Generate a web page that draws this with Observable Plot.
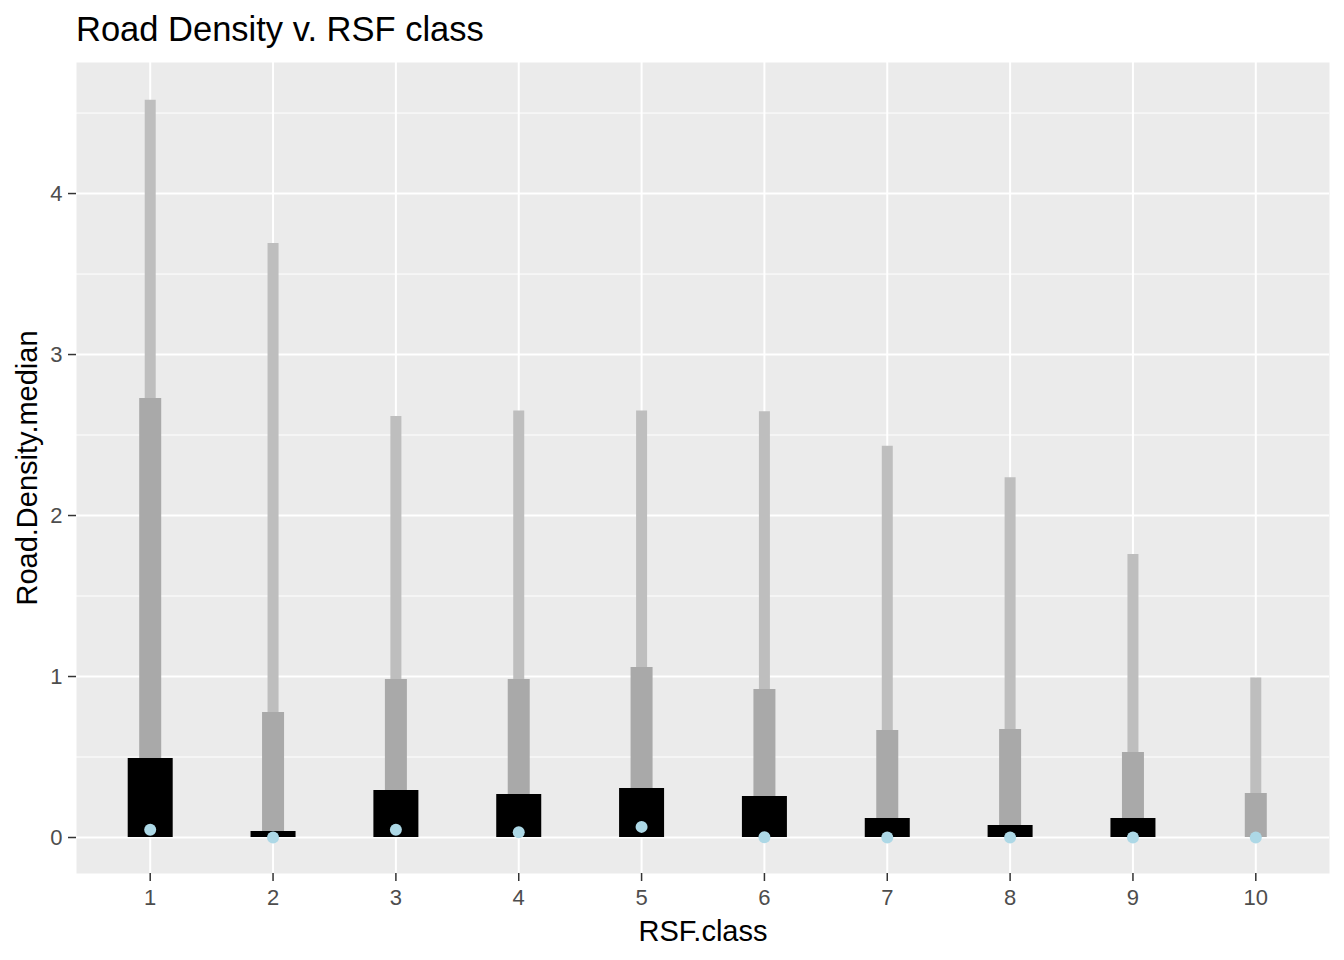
<!DOCTYPE html>
<html>
<head>
<meta charset="utf-8">
<script src="https://cdn.jsdelivr.net/npm/d3@7"></script>
<script src="https://cdn.jsdelivr.net/npm/@observablehq/plot@0.6"></script>
<style>
  html, body { margin: 0; padding: 0; background: #ffffff; }
  #title {
    box-sizing: border-box;
    height: 50px;
    padding-top: 12px;
    padding-left: 76px;
    font-family: "Liberation Sans", Arial, sans-serif;
    font-size: 34.5px;
    line-height: 35px;
    color: #000000;
    white-space: nowrap;
  }
  svg { display: block; }
</style>
</head>
<body>
<div id="title">Road Density v. RSF class</div>
<div id="chart"></div>
<script>
// RSF classes on the x axis
const rsfClass = [1, 2, 3, 4, 5, 6, 7, 8, 9, 10];
// Light grey thin bars (upper extent)
const upperValues = [4.58, 3.69, 2.615, 2.65, 2.65, 2.645, 2.43, 2.235, 1.758, 0.99];
// Medium grey bars
const midValues = [2.727, 0.776, 0.981, 0.981, 1.056, 0.919, 0.665, 0.671, 0.528, 0.273];
// Black wide bars
const lowerValues = [0.491, 0.037, 0.292, 0.267, 0.304, 0.255, 0.118, 0.075, 0.118, 0.0];
// Light blue points (median)
const medianValues = [0.048, 0.0, 0.048, 0.033, 0.066, 0.002, 0.0, 0.0, 0.0, 0.0];
// Axis ticks
const yTicks = [0, 1, 2, 3, 4];
const yMinorGrid = [0.5, 1.5, 2.5, 3.5, 4.5];

const data = rsfClass.map((c, i) => ({
  cls: String(c),
  upper: upperValues[i],
  mid: midValues[i],
  lower: lowerValues[i],
  median: medianValues[i]
}));

const font = "'Liberation Sans', Arial, sans-serif";

const chart = Plot.plot({
  width: 1344,
  height: 910,
  marginTop: 12,
  marginBottom: 87,
  marginLeft: 76,
  marginRight: 15,
  style: { fontFamily: font, background: "#ffffff" },
  x: { type: "point", domain: rsfClass.map(String), padding: 0.6, round: false, axis: null },
  y: { domain: [-0.2236, 4.814], axis: null },
  marks: [
    Plot.frame({ fill: "#EBEBEB", stroke: null }),
    Plot.ruleY(yMinorGrid, { stroke: "#ffffff", strokeWidth: 1 }),
    Plot.ruleY(yTicks, { stroke: "#ffffff", strokeWidth: 2 }),
    Plot.ruleX(rsfClass.map(String), { stroke: "#ffffff", strokeWidth: 2 }),
    Plot.ruleX(data, { x: "cls", y1: 0, y2: "upper", stroke: "#BEBEBE", strokeWidth: 11 }),
    Plot.ruleX(data, { x: "cls", y1: 0, y2: "mid", stroke: "#A9A9A9", strokeWidth: 22 }),
    Plot.ruleX(data.filter(d => d.lower > 0), { x: "cls", y1: 0, y2: "lower", stroke: "#000000", strokeWidth: 45 }),
    Plot.dot(data, { x: "cls", y: "median", r: 6, fill: "#ADD8E6", stroke: null }),
    Plot.axisX({
      anchor: "bottom",
      tickSize: 8,
      tickPadding: 8,
      stroke: "#333333",
      strokeWidth: 1.5,
      fill: "#4D4D4D",
      fontSize: 22,
      label: null
    }),
    Plot.axisY(yTicks, {
      anchor: "left",
      tickSize: 8,
      tickPadding: 6,
      tickFormat: d => String(d),
      stroke: "#333333",
      strokeWidth: 1.5,
      fill: "#4D4D4D",
      fontSize: 22,
      label: null
    }),
    Plot.text(["RSF.class"], {
      frameAnchor: "bottom",
      dy: 58,
      lineAnchor: "middle",
      textAnchor: "middle",
      fontSize: 29,
      fill: "#000000"
    }),
    Plot.text(["Road.Density.median"], {
      frameAnchor: "left",
      dx: -49,
      rotate: -90,
      lineAnchor: "middle",
      textAnchor: "middle",
      fontSize: 29,
      fill: "#000000"
    })
  ]
});

document.getElementById("chart").appendChild(chart);
</script>
</body>
</html>
